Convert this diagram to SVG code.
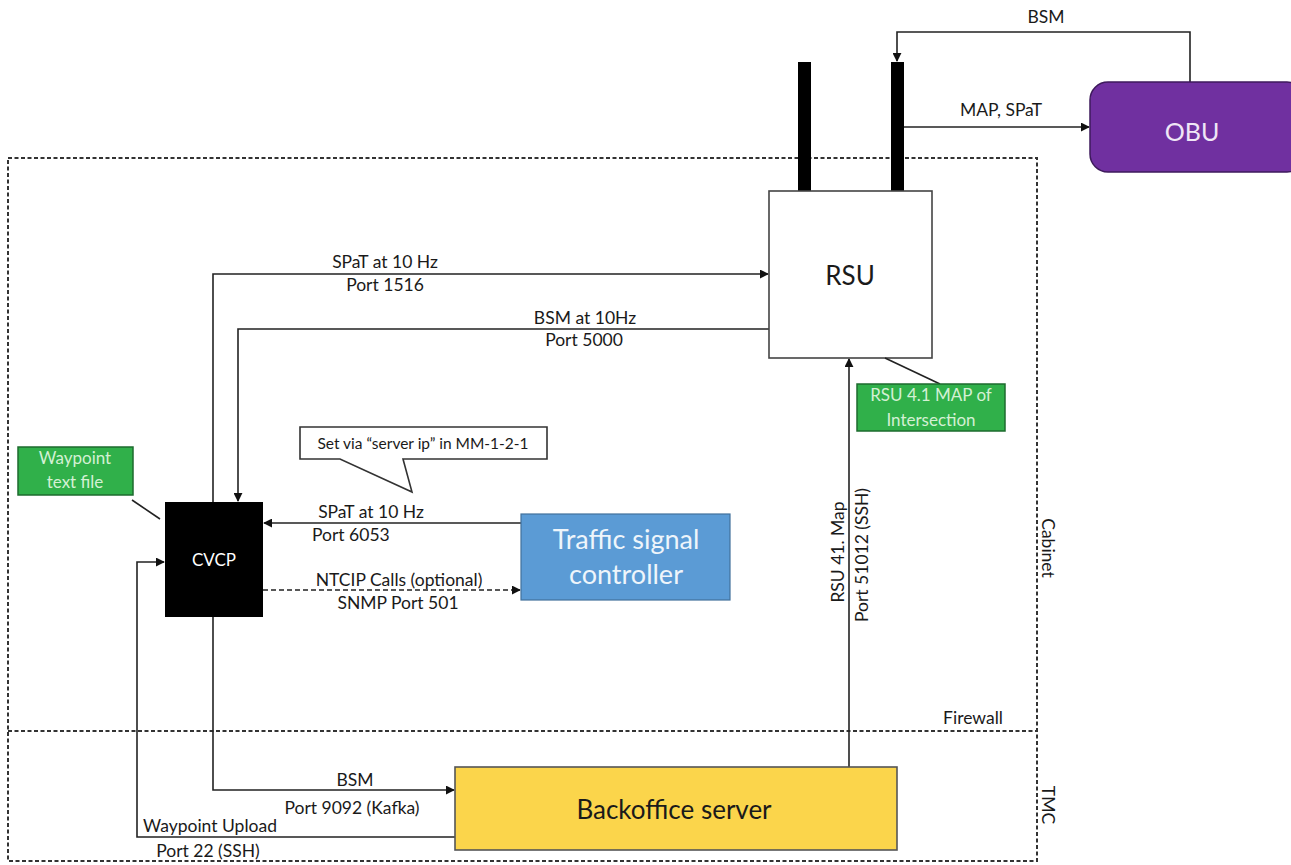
<svg xmlns="http://www.w3.org/2000/svg" width="1291" height="865" viewBox="0 0 1291 865">
<style>
text{font-family:Lato,"Open Sans","Liberation Sans",sans-serif;fill:#1a1a1a}
.lbl{font-size:17.5px}
.mid{text-anchor:middle}
.conn{fill:none;stroke:#222;stroke-width:1.6}
.dash{stroke-dasharray:5 3}
.zone{fill:none;stroke:#333;stroke-width:2;stroke-dasharray:4 2.5}
.big{font-size:26px}
.green{fill:#30b04a;stroke:#1d6b2e;stroke-width:1.5}
.gtxt{fill:#d4f0d4;font-size:17px}
</style>
<defs>
<marker id="ah" viewBox="0 0 10 10" refX="9" refY="5" markerWidth="9" markerHeight="9" markerUnits="userSpaceOnUse" orient="auto">
<path d="M0,0 L10,5 L0,10 z" fill="#111"/>
</marker>
</defs>
<rect width="1291" height="865" fill="#fff"/>
<g id="zones">
<path class="zone" d="M8,158 H1037 V861 H8 Z"/>
<path class="zone" d="M8,731 H1037"/>
<text class="lbl mid" x="973" y="724">Firewall</text>
<text class="lbl mid" transform="translate(1042,548) rotate(90)">Cabinet</text>
<text class="lbl mid" transform="translate(1042,805) rotate(90)">TMC</text>
</g>
<g id="connectors">
<path class="conn" d="M1190,82 V32 H897 V61" marker-end="url(#ah)"/>
<path class="conn" d="M904,127 H1089" marker-end="url(#ah)"/>
<path class="conn" d="M213,502 V274 H768" marker-end="url(#ah)"/>
<path class="conn" d="M769,329 H238 V501" marker-end="url(#ah)"/>
<path class="conn" d="M521,523 H264" marker-end="url(#ah)"/>
<path class="conn dash" d="M263,590 H520" marker-end="url(#ah)"/>
<path class="conn" d="M849,767 V359" marker-end="url(#ah)"/>
<path class="conn" d="M213,617 V790 H454" marker-end="url(#ah)"/>
<path class="conn" d="M455,837 H137 V562 H164" marker-end="url(#ah)"/>
<text class="lbl mid" x="1046" y="23">BSM</text>
<text class="lbl mid" x="1001" y="116">MAP, SPaT</text>
<text class="lbl mid" x="385" y="268">SPaT at 10 Hz</text>
<text class="lbl mid" x="385" y="291">Port 1516</text>
<text class="lbl mid" x="585" y="324">BSM at 10Hz</text>
<text class="lbl mid" x="584" y="346">Port 5000</text>
<text class="lbl mid" x="371" y="518">SPaT at 10 Hz</text>
<text class="lbl" x="312" y="541">Port 6053</text>
<text class="lbl mid" x="399" y="586">NTCIP Calls (optional)</text>
<text class="lbl mid" x="398" y="609">SNMP Port 501</text>
<text class="lbl mid" transform="translate(844,552) rotate(-90)">RSU 41. Map</text>
<text class="lbl mid" transform="translate(868,555) rotate(-90)">Port 51012 (SSH)</text>
<text class="lbl mid" x="355" y="786">BSM</text>
<text class="lbl mid" x="352" y="814">Port 9092 (Kafka)</text>
<text class="lbl mid" x="210" y="832">Waypoint Upload</text>
<text class="lbl mid" x="208" y="857">Port 22 (SSH)</text>
</g>
<g id="rsu">
<rect x="798" y="62" width="13" height="130" fill="#000"/>
<rect x="891" y="62" width="13" height="130" fill="#000"/>
<rect x="769" y="191" width="163" height="167" fill="#fff" stroke="#444" stroke-width="1.6"/>
<text class="mid" x="850" y="285" font-size="26">RSU</text>
</g>
<g id="obu">
<rect x="1090" y="82" width="215" height="90" rx="18" fill="#7030a0" stroke="#3e1a5c" stroke-width="1.5"/>
<text class="mid" x="1192" y="141" font-size="25" style="fill:#efe6f6">OBU</text>
</g>
<g id="rsu-map-note">
<path d="M885,358 L940,384" stroke="#222" stroke-width="1.6"/>
<rect class="green" x="857" y="384" width="148" height="47"/>
<text class="gtxt mid" x="931" y="401">RSU 4.1 MAP of</text>
<text class="gtxt mid" x="931" y="426">Intersection</text>
</g>
<g id="waypoint-note">
<path d="M132,500 L160,519" stroke="#222" stroke-width="1.6"/>
<rect class="green" x="18" y="447" width="115" height="48"/>
<text class="gtxt mid" x="75" y="464">Waypoint</text>
<text class="gtxt mid" x="75" y="488">text file</text>
</g>
<g id="callout">
<path d="M300,427 H547 V459 H403 L412,492 L340,459 H300 Z" fill="#fff" stroke="#333" stroke-width="1.6"/>
<text class="mid" x="423" y="449" font-size="15.5">Set via “server ip” in MM-1-2-1</text>
</g>
<g id="cvcp">
<rect x="165" y="502" width="98" height="115" fill="#000"/>
<text class="mid" x="214" y="566" font-size="17" style="fill:#fff">CVCP</text>
</g>
<g id="tsc">
<rect x="521" y="514" width="209" height="86" fill="#5b9bd5" stroke="#41719c" stroke-width="1.2"/>
<text class="mid" x="626" y="549" font-size="27" style="fill:#eef5fb">Traffic signal</text>
<text class="mid" x="626" y="584" font-size="27" style="fill:#eef5fb">controller</text>
</g>
<g id="backoffice">
<rect x="455" y="767" width="442" height="83" fill="#fbd54b" stroke="#555" stroke-width="1.6"/>
<text class="mid big" x="674" y="819">Backoffice server</text>
</g>
</svg>
